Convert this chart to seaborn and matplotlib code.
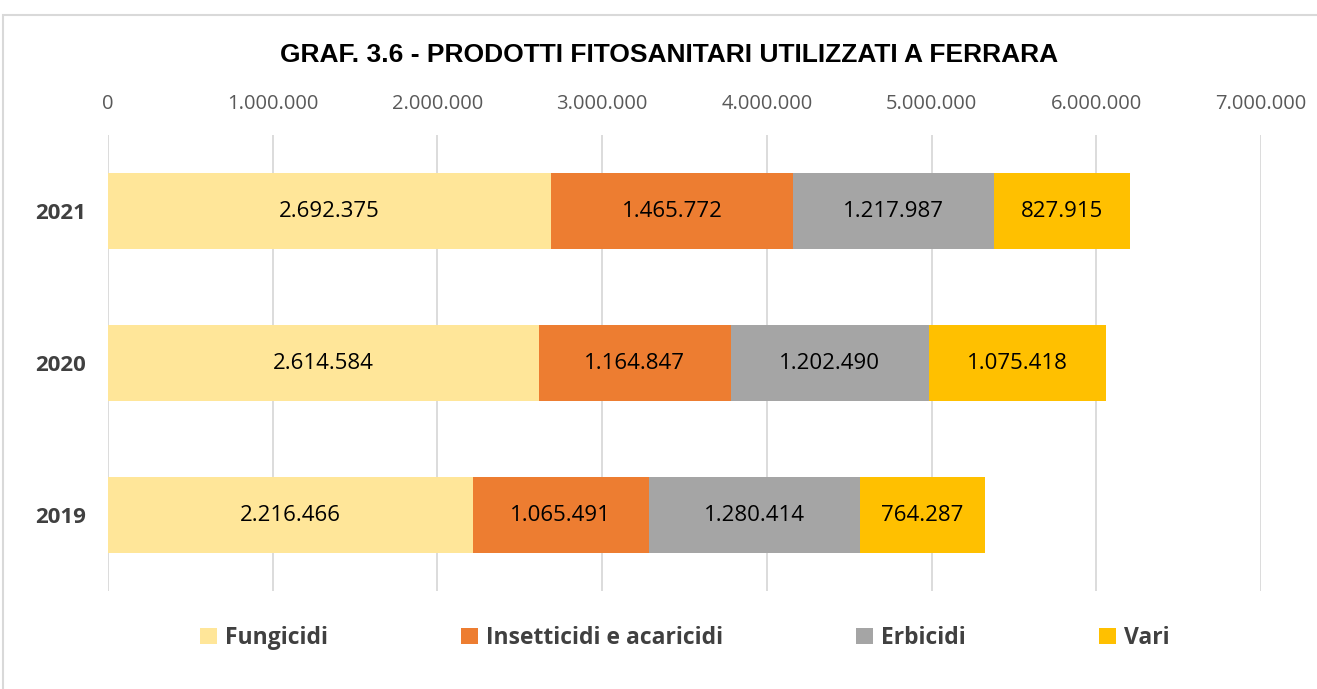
import numpy as np
import pandas as pd
import matplotlib
matplotlib.use("Agg")
import matplotlib.pyplot as plt
from matplotlib.patches import Patch, Rectangle
from matplotlib.ticker import FuncFormatter
import seaborn as sns

# dati
anni = ["2021", "2020", "2019"]
fungicidi = [2692375, 2614584, 2216466]
insetticidi = [1465772, 1164847, 1065491]
erbicidi = [1217987, 1202490, 1280414]
vari = [827915, 1075418, 764287]

serie = ["Fungicidi", "Insetticidi e acaricidi", "Erbicidi", "Vari"]
colori = ["#FFE699", "#ED7D31", "#A5A5A5", "#FFC000"]

df = pd.DataFrame({"Anno": anni, "Fungicidi": fungicidi,
                   "Insetticidi e acaricidi": insetticidi,
                   "Erbicidi": erbicidi, "Vari": vari})
cum = df[serie].cumsum(axis=1)

sns.set_theme(style="white")
plt.rcParams['font.family'] = ['Open Sans', 'DejaVu Sans']

fig = plt.figure(figsize=(13.17, 6.89), dpi=100)
ax = fig.add_axes([0.082, 0.142, 0.8755, 0.662])

# barre impilate: si disegnano le somme cumulative dalla più lunga alla più corta
for s, c in zip(serie[::-1], colori[::-1]):
    sns.barplot(x=cum[s], y=df["Anno"], orient="y", color=c, width=0.5,
                saturation=1, ax=ax, linewidth=0)

# etichette dei valori
for i in range(len(anni)):
    start = 0
    for s in serie:
        v = df.loc[i, s]
        ax.text(start + v / 2, i, f"{v:,}".replace(",", "."), ha="center",
                va="center", fontsize=16, color="#000000")
        start += v

ax.set_xlim(0, 7000000)
ax.set_ylim(2.5, -0.5)
ax.xaxis.tick_top()
ax.set_xticks(np.arange(0, 7000001, 1000000))
ax.xaxis.set_major_formatter(FuncFormatter(lambda x, p: f"{int(x):,}".replace(",", ".")))
ax.tick_params(axis="x", length=0, pad=15, labelsize=14.5, labelcolor="#595959")
ax.tick_params(axis="y", length=0, pad=16, labelsize=16, labelcolor="#404040")
for lab in ax.get_yticklabels():
    lab.set_fontweight("bold")
ax.set_xlabel("")
ax.set_ylabel("")
ax.grid(axis="x", color="#D9D9D9", linewidth=1.3)
ax.set_axisbelow(True)
for sp in ax.spines.values():
    sp.set_visible(False)

fig.text(0.508, 1 - 55 / 689, "GRAF. 3.6 - PRODOTTI FITOSANITARI UTILIZZATI A FERRARA",
         ha="center", va="center", fontsize=19, fontweight="bold",
         color="#000000", family=["Liberation Sans", "DejaVu Sans"])

handles = [Patch(facecolor=c, edgecolor="none", label=s) for s, c in zip(serie, colori)]
fig.legend(handles=handles, loc="center", bbox_to_anchor=(0.52, 1 - 638 / 689), ncol=4,
           frameon=False, handlelength=0.75, handleheight=0.75, handletextpad=0.35,
           columnspacing=5.8, prop={"size": 16.5, "weight": "bold"}, labelcolor="#404040")

fig.patches.append(Rectangle((3 / 1317, -0.1), 1.2, 1.1 - 15 / 689, transform=fig.transFigure,
                             fill=False, edgecolor="#D9D9D9", linewidth=1.5))

fig.savefig("out.png", dpi=100, facecolor="white")
